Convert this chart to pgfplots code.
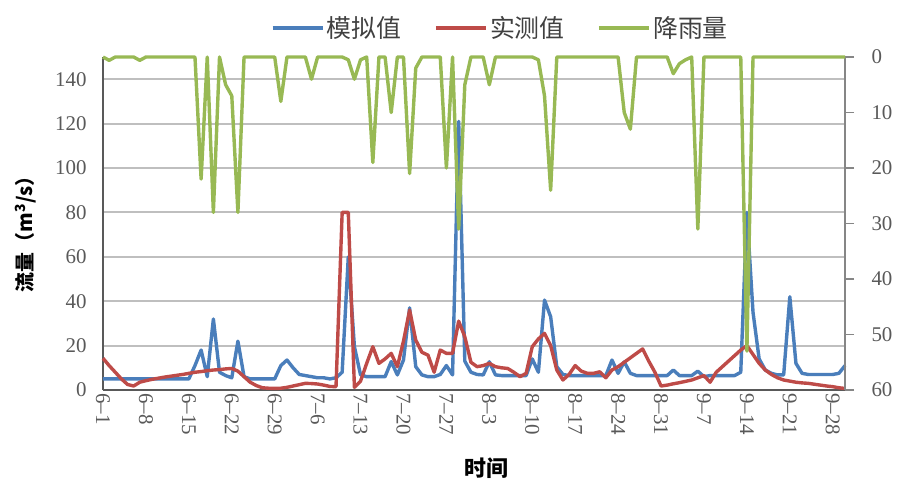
\documentclass[border=0pt]{standalone}
\usepackage{fontspec}
\setmainfont{Liberation Serif}
\newfontfamily\cjk{Noto Sans CJK SC}
\usepackage{pgfplots}
\usepackage{pgfplotstable}
\pgfplotsset{compat=1.18}
\definecolor{cblue}{HTML}{4A7EBB}
\definecolor{cred}{HTML}{BE4B48}
\definecolor{cgreen}{HTML}{98B954}
\definecolor{tickgray}{HTML}{595959}
\definecolor{gridgray}{HTML}{BFBFBF}
\definecolor{axgray}{HTML}{868686}

\pgfplotstableread{
i B R G
0 5 14.3 0
1 5 11 0.6
2 5 8 0
3 5 5 0
4 5 2.5 0
5 5 1.8 0
6 5 3.5 0.6
7 5 4.2 0
8 5 4.8 0
9 5 5.3 0
10 5 5.8 0
11 5 6.2 0
12 5 6.6 0
13 5 7 0
14 5 7.5 0
15 11 8 0
16 18 8.3 22
17 6 8.7 0
18 32 9 28
19 8 9.2 0
20 6.5 9.5 5
21 5.5 9.7 7
22 22 8.5 28
23 6 6 0
24 5 3.5 0
25 5 2 0
26 5 1 0
27 5 0.8 0
28 5 0.7 0
29 11 0.8 8
30 13.5 1.2 0
31 10 1.8 0
32 7 2.4 0
33 6.5 3 0
34 6 2.9 4
35 5.5 2.7 0
36 5.5 2.2 0
37 5 1.6 0
38 5.5 1.5 0
39 8 80 0
40 60 80 0.5
41 19.5 1.2 4
42 6.8 4 0.5
43 6 12 0
44 6 19.5 19
45 6 12 0
46 6 14 0
47 12.8 16.5 10
48 6.8 10.5 0
49 13.5 22 0
50 37 36 21
51 10.5 22.5 2
52 6.8 17 0
53 6 15.7 0
54 6 8 0
55 7 18 0
56 11 16.5 20
57 6.8 16.5 0
58 121 31 31
59 13 24 5
60 8 12.5 0
61 7 10.5 0
62 6.8 11 0
63 12.7 12 5
64 6.8 10.5 0
65 6.5 10 0
66 6.5 9.7 0
67 6.5 8 0
68 6.5 6 0
69 6.5 7.5 0
70 14 19.5 0
71 8 23 0.5
72 40.5 25.5 7
73 33 20 24
74 10.5 9 0
75 7 4.5 0
76 6.5 7 0
77 6.5 11 0
78 6.5 8.5 0
79 6.5 7.5 0
80 6.5 7.5 0
81 6.5 8.2 0
82 6.5 5.5 0
83 13.5 9 0
84 7.5 10.5 0
85 12.7 12.5 10
86 7.5 14.5 13
87 6.5 16.5 0
88 6.5 18.5 0
89 6.5 13 0
90 6.5 8 0
91 6.5 1.8 0
92 6.5 2.2 0
93 9 2.8 3
94 6.5 3.3 1.2
95 6.5 3.9 0.5
96 6.5 4.5 0
97 8.5 5.5 31
98 6 6.5 0
99 6.5 3.5 0
100 6.5 8 0
101 6.5 10.5 0
102 6.5 13 0
103 6.5 15.5 0
104 8 18 0
105 80 20 53
106 35 16 0
107 14 12 0
108 9 9 0
109 7.5 7 0
110 6.8 5.5 0
111 6.8 4.5 0
112 42 4 0
113 12 3.5 0
114 7.5 3.2 0
115 7 3 0
116 7 2.6 0
117 7 2.2 0
118 7 1.8 0
119 7 1.5 0
120 7.5 1 0
121 11 0.7 0
}\data

\begin{document}
\begin{tikzpicture}
\useasboundingbox (-103bp,-93bp) rectangle (795bp,390bp);
\begin{axis}[
  at={(0,0)}, anchor=south west,
  scale only axis, width=742bp, height=333bp,
  xmin=0, xmax=121, ymin=0, ymax=150,
  axis x line*=bottom, axis y line*=left,
  axis line style={-, draw=tickgray, line width=1.5bp},
  xtick={0,7,...,119},
  xticklabels={6--1,6--8,6--15,6--22,6--29,7--6,7--13,7--20,7--27,8--3,8--10,8--17,8--24,8--31,9--7,9--14,9--21,9--28},
  ytick={0,20,...,140},
  ymajorgrids, major grid style={gridgray, line width=2bp},
  major tick length=0pt,
  tick label style={font=\fontsize{21}{24}\selectfont, text=tickgray},
  yticklabel style={xshift=-13bp},
  xticklabel style={rotate=-90, anchor=west},
  /pgf/number format/assume math mode=true,
  clip=false,
  xlabel={\cjk\bfseries 时间},
  xlabel style={at={(0.517,-0.234)}, anchor=center, font=\fontsize{22}{24}\selectfont, text=black},
  ylabel={\cjk\bfseries 流量（m\textsuperscript{3}/s）},
  ylabel style={at={(-0.104,0.483)}, anchor=center, font=\fontsize{20}{24}\selectfont, text=black},
]
\addplot[cblue, line width=3.4bp, line join=round] table[x=i,y=B]{\data};
\addplot[cred, line width=3.4bp, line join=round] table[x=i,y=R]{\data};
\end{axis}
\begin{axis}[
  at={(0,0)}, anchor=south west,
  scale only axis, width=742bp, height=333bp,
  xmin=0, xmax=121, ymin=0, ymax=60, y dir=reverse,
  axis x line=none, axis y line*=right,
  axis line style={-, draw=axgray, line width=1.5bp},
  ytick={0,10,...,60},
  tick align=outside, major tick length=9bp,
  tick style={axgray, line width=1.5bp},
  tick label style={font=\fontsize{21}{24}\selectfont, text=tickgray},
  yticklabel style={anchor=west, xshift=14bp},
  /pgf/number format/assume math mode=true,
  clip=false,
  legend columns=3,
  legend style={draw=none, fill=none, at={(0.536,1.087)}, anchor=center,
    font=\cjk\fontsize{25}{28}\selectfont, text=darkgray,
    /tikz/every even column/.append style={column sep=30bp},
    nodes={inner sep=2.5bp}},
  legend image code/.code={\draw[#1] (0bp,0bp) -- (50bp,0bp);},
]
\addlegendimage{cblue, line width=3.4bp}
\addlegendentry{模拟值}
\addlegendimage{cred, line width=3.4bp}
\addlegendentry{实测值}
\addplot[cgreen, line width=3.4bp, line join=round] table[x=i,y=G]{\data};
\addlegendentry{降雨量}
\end{axis}
\end{tikzpicture}
\end{document}
